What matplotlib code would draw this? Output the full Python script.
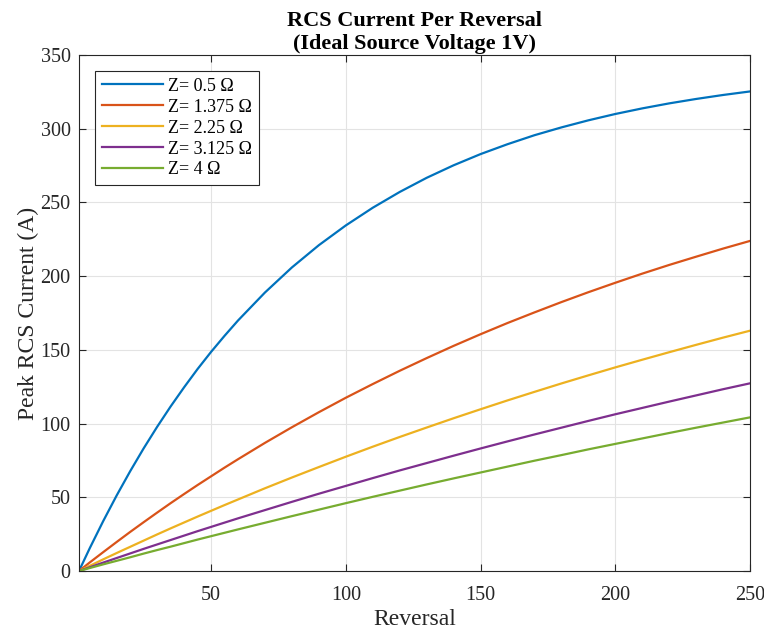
import matplotlib
matplotlib.use('Agg')
import matplotlib.pyplot as plt

plt.rcParams['font.family'] = ['Liberation Serif', 'DejaVu Serif']

reversal = [1, 5, 10, 15, 20, 25, 30, 35, 40, 45, 50, 55, 60, 70, 80, 90, 100,
            110, 120, 130, 140, 150, 160, 170, 180, 190, 200, 210, 220, 230,
            240, 250]

i_05 = [0, 15.5, 33.9, 51.3, 67.7, 83.2, 97.8, 111.6, 124.6, 137.0, 148.6,
        159.5, 169.9, 188.9, 205.9, 221.0, 234.4, 246.4, 257.1, 266.7, 275.2,
        282.8, 289.5, 295.6, 300.9, 305.7, 310.0, 313.8, 317.2, 320.2, 322.9,
        325.3]
i_1375 = [0, 5.8, 12.8, 19.7, 26.5, 33.1, 39.6, 46.0, 52.2, 58.3, 64.2,
          70.1, 75.8, 86.9, 97.5, 107.7, 117.5, 126.8, 135.8, 144.4, 152.7,
          160.6, 168.2, 175.4, 182.4, 189.1, 195.5, 201.7, 207.6, 213.2, 218.7,
          223.9]
i_225 = [0, 3.5, 7.9, 12.2, 16.4, 20.6, 24.8, 28.9, 32.9, 36.9, 40.8,
         44.7, 48.5, 56.1, 63.4, 70.5, 77.5, 84.3, 90.9, 97.3, 103.6,
         109.7, 115.7, 121.5, 127.2, 132.7, 138.1, 143.3, 148.4, 153.4, 158.3,
         163.0]
i_3125 = [0, 2.5, 5.7, 8.8, 11.9, 15.0, 18.0, 21.0, 24.0, 27.0, 29.9,
          32.8, 35.7, 41.3, 46.9, 52.4, 57.7, 63.0, 68.2, 73.2, 78.2,
          83.1, 87.9, 92.6, 97.2, 101.8, 106.3, 110.6, 114.9, 119.1, 123.3,
          127.3]
i_4 = [0, 2.0, 4.5, 6.9, 9.3, 11.8, 14.2, 16.5, 18.9, 21.3, 23.6,
       25.9, 28.2, 32.7, 37.2, 41.6, 46.0, 50.3, 54.5, 58.7, 62.8,
       66.8, 70.8, 74.8, 78.6, 82.5, 86.2, 89.9, 93.6, 97.2, 100.7,
       104.2]

series = [i_05, i_1375, i_225, i_3125, i_4]
labels = ['Z= 0.5 Ω', 'Z= 1.375 Ω', 'Z= 2.25 Ω', 'Z= 3.125 Ω', 'Z= 4 Ω']
colors = [(0, 0.447, 0.741), (0.85, 0.325, 0.098), (0.929, 0.694, 0.125),
          (0.494, 0.184, 0.556), (0.466, 0.674, 0.188)]

fig = plt.figure(figsize=(7.64, 6.34), dpi=100)
ax = fig.add_axes([0.1034, 0.0994, 0.8783, 0.8138])
for y, lab, c in zip(series, labels, colors):
    ax.plot(reversal, y, color=c, linewidth=1.6, label=lab)

ax.set_xlim(1, 250)
ax.set_ylim(0, 350)
ax.set_xticks([50, 100, 150, 200, 250])
ax.set_yticks(range(0, 351, 50))
ax.grid(True, color='#e3e3e3', linewidth=0.8)
ax.set_axisbelow(True)
ax.tick_params(direction='in', top=True, right=True, labelsize=14.5,
               colors='#262626', length=5)
ax.tick_params(axis='y', pad=6)
ax.tick_params(axis='x', pad=11)
for s in ax.spines.values():
    s.set_color('#262626')
    s.set_linewidth(0.8)

ax.set_xlabel('Reversal', fontsize=17, color='#262626', labelpad=3)
ax.set_ylabel('Peak RCS Current (A)', fontsize=17, color='#262626', labelpad=1)
ax.set_title('RCS Current Per Reversal\n(Ideal Source Voltage 1V)',
             fontsize=16, fontweight='bold', linespacing=1.25, pad=4)
leg = ax.legend(loc='upper left', fontsize=13, fancybox=False, framealpha=1,
                edgecolor='#262626', borderaxespad=0.9, handlelength=3.4,
                labelspacing=0.22, handletextpad=0.3, borderpad=0.35)
leg.get_frame().set_linewidth(0.8)

fig.savefig('out.png', dpi=100)
